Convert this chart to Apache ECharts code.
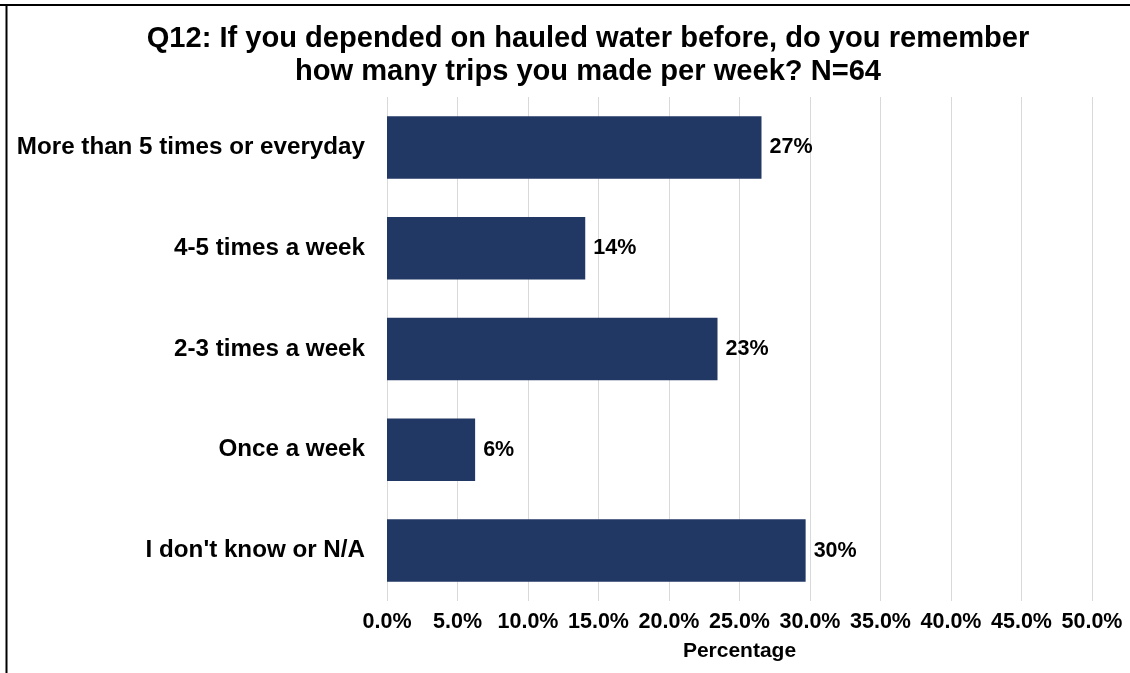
<!DOCTYPE html>
<html>
<head>
<meta charset="utf-8">
<title>Q12 hauled water trips per week</title>
<script src="https://cdn.jsdelivr.net/npm/echarts@6/dist/echarts.min.js"></script>
<style>
  html, body { margin: 0; padding: 0; background: #ffffff; }
  #chart { width: 1130px; height: 673px; }
</style>
</head>
<body>
<div id="chart"></div>
<script>
// Responses, listed top to bottom
const categories = [
  'More than 5 times or everyday',
  '4-5 times a week',
  '2-3 times a week',
  'Once a week',
  "I don't know or N/A"
];
// Share of respondents (%), N=64
const percentages = [26.56, 14.06, 23.44, 6.25, 29.69];
// Value axis ticks
const axisMin = 0;
const axisMax = 50;
const axisStep = 5;

const FONT = '"Liberation Sans", Arial, sans-serif';

const chart = echarts.init(document.getElementById('chart'), null, { renderer: 'canvas' });

chart.setOption({
  animation: false,
  backgroundColor: '#ffffff',
  title: {
    text: 'Q12: If you depended on hauled water before, do you remember\nhow many trips you made per week? N=64',
    left: 583,
    top: 17,
    textAlign: 'center',
    textStyle: {
      fontFamily: FONT,
      fontWeight: 'bold',
      fontSize: 29.1,
      lineHeight: 33,
      color: '#000000'
    }
  },
  grid: {
    left: 387,
    right: 38,
    top: 97,
    bottom: 72,
    containLabel: false
  },
  xAxis: {
    type: 'value',
    min: axisMin,
    max: axisMax,
    interval: axisStep,
    name: 'Percentage',
    nameLocation: 'middle',
    nameGap: 40,
    nameTextStyle: {
      fontFamily: FONT,
      fontWeight: 'bold',
      fontSize: 21,
      color: '#000000'
    },
    axisLine: { show: false },
    axisTick: { show: false },
    axisLabel: {
      margin: 10,
      fontFamily: FONT,
      fontWeight: 'bold',
      fontSize: 21.5,
      color: '#000000',
      formatter: v => v.toFixed(1) + '%'
    },
    splitLine: {
      show: true,
      lineStyle: { color: '#d9d9d9', width: 1 }
    }
  },
  yAxis: {
    type: 'category',
    data: categories,
    inverse: true,
    axisLine: { show: false },
    axisTick: { show: false },
    axisLabel: {
      margin: 22,
      fontFamily: FONT,
      fontWeight: 'bold',
      fontSize: 24.2,
      color: '#000000'
    },
    splitLine: { show: false }
  },
  series: [{
    type: 'bar',
    data: percentages,
    barCategoryGap: '38%',
    itemStyle: { color: '#213764' },
    label: {
      show: true,
      position: 'right',
      distance: 8,
      fontFamily: FONT,
      fontWeight: 'bold',
      fontSize: 21.5,
      color: '#000000',
      formatter: p => Math.round(p.value) + '%'
    }
  }],
  graphic: [
    {
      type: 'line',
      shape: { x1: 0, y1: 5, x2: 1130, y2: 5 },
      style: { stroke: '#000000', lineWidth: 2 }
    },
    {
      type: 'line',
      shape: { x1: 6.5, y1: 4, x2: 6.5, y2: 673 },
      style: { stroke: '#000000', lineWidth: 2 }
    }
  ]
});
</script>
</body>
</html>
